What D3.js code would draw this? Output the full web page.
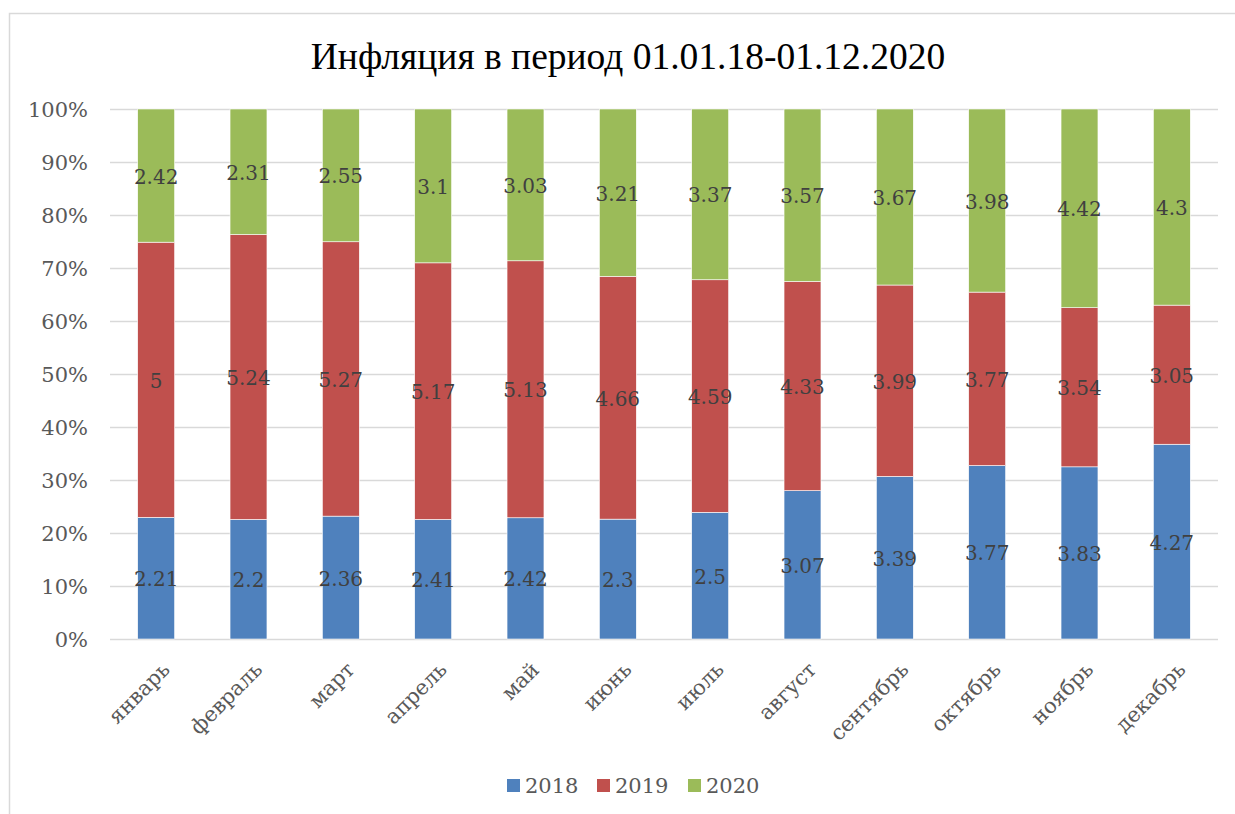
<!DOCTYPE html>
<html>
  <head>
    <meta charset="utf-8">
    <title>Инфляция</title>
    <script src="https://d3js.org/d3.v7.min.js"></script>
    <style>
      body {
        margin: 0;
        background: #fff;
        overflow: hidden;
      }
      text {
        font-family: "DejaVu Serif", serif;
      }
    </style>
  </head>
  <body>
    <script>
      var months = ["январь", "февраль", "март", "апрель", "май", "июнь",
                    "июль", "август", "сентябрь", "октябрь", "ноябрь", "декабрь"];
      var years = ["2018", "2019", "2020"];
      var v2018 = [2.21, 2.2, 2.36, 2.41, 2.42, 2.3, 2.5, 3.07, 3.39, 3.77, 3.83, 4.27];
      var v2019 = [5, 5.24, 5.27, 5.17, 5.13, 4.66, 4.59, 4.33, 3.99, 3.77, 3.54, 3.05];
      var v2020 = [2.42, 2.31, 2.55, 3.1, 3.03, 3.21, 3.37, 3.57, 3.67, 3.98, 4.42, 4.3];
      var yTicks = [0, 0.1, 0.2, 0.3, 0.4, 0.5, 0.6, 0.7, 0.8, 0.9, 1];
      var colors = ["#4f81bd", "#c0504d", "#9bbb59"];

      var width = 1235, height = 814;
      var margin = {left: 110, right: 17, top: 109, bottom: 175};

      var svg = d3.select("body").append("svg")
                  .attr("width", width)
                  .attr("height", height);

      // chart frame
      svg.append("rect")
         .attr("x", 9.5).attr("y", 13.5)
         .attr("width", width + 20).attr("height", height + 20)
         .attr("fill", "#fff")
         .attr("stroke", "#d9d9d9")
         .attr("stroke-width", 1.5);

      svg.append("text")
         .attr("x", 628).attr("y", 69)
         .attr("text-anchor", "middle")
         .style("font-family", "'Liberation Serif', serif")
         .style("font-size", "37.5px")
         .attr("fill", "#000")
         .text("Инфляция в период 01.01.18-01.12.2020");

      // rows for the stack
      var rows = months.map(function(m, i) {
        return {month: m, "2018": v2018[i], "2019": v2019[i], "2020": v2020[i]};
      });

      var series = d3.stack()
                     .keys(years)
                     .offset(d3.stackOffsetExpand)(rows);

      var x = d3.scaleBand()
                .domain(months)
                .range([margin.left, width - margin.right])
                .paddingInner(0.6)
                .paddingOuter(0.3);

      var y = d3.scaleLinear()
                .domain([0, 1])
                .range([height - margin.bottom, margin.top]);

      // gridlines + y labels
      var yAxis = d3.axisLeft(y)
                    .tickValues(yTicks)
                    .tickFormat(d3.format(".0%"))
                    .tickSize(-(width - margin.left - margin.right))
                    .tickPadding(22);

      var gy = svg.append("g")
                  .attr("transform", "translate(" + margin.left + ",0)")
                  .call(yAxis);
      gy.select(".domain").remove();
      gy.selectAll("line").attr("stroke", "#d9d9d9").attr("stroke-width", 1.5);
      gy.selectAll("text")
        .attr("fill", "#595959")
        .style("font-size", "21px")
        .attr("dy", "0.35em");

      // bars
      var g = svg.append("g");
      var layer = g.selectAll("g.layer")
                   .data(series)
                   .enter().append("g")
                   .attr("class", "layer")
                   .attr("fill", function(d, i) { return colors[i]; });

      layer.selectAll("rect")
           .data(function(d) { return d; })
           .enter().append("rect")
           .attr("x", function(d) { return x(d.data.month); })
           .attr("width", x.bandwidth())
           .attr("y", function(d) { return y(d[1]); })
           .attr("height", function(d) { return y(d[0]) - y(d[1]); })
           .attr("stroke", "#fff")
           .attr("stroke-width", 0.6);

      // value labels
      layer.each(function(s) {
        d3.select(this).selectAll("text.val")
          .data(s)
          .enter().append("text")
          .attr("class", "val")
          .attr("x", function(d) { return x(d.data.month) + x.bandwidth() / 2; })
          .attr("y", function(d) { return y((d[0] + d[1]) / 2); })
          .attr("dy", "0.4em")
          .attr("text-anchor", "middle")
          .attr("fill", "#404040")
          .style("font-size", "20px")
          .text(function(d) { return d.data[s.key]; });
      });

      // x axis labels
      var xAxis = d3.axisBottom(x).tickSize(0).tickPadding(0);
      var gx = svg.append("g")
                  .attr("transform", "translate(0," + (height - margin.bottom) + ")")
                  .call(xAxis);
      gx.select(".domain").remove();
      gx.selectAll("text")
        .attr("fill", "#595959")
        .style("font-size", "21px")
        .attr("text-anchor", "end")
        .attr("dy", "0")
        .attr("y", 0)
        .attr("transform", "translate(15,32) rotate(-45)");

      // legend
      var legendX = [507, 597, 688];
      var legend = svg.append("g");
      years.forEach(function(yr, i) {
        legend.append("rect")
              .attr("x", legendX[i]).attr("y", 779)
              .attr("width", 13).attr("height", 13)
              .attr("fill", colors[i]);
        legend.append("text")
              .attr("x", legendX[i] + 18).attr("y", 793)
              .attr("fill", "#595959")
              .style("font-size", "21px")
              .text(yr);
      });
    </script>
  </body>
</html>
